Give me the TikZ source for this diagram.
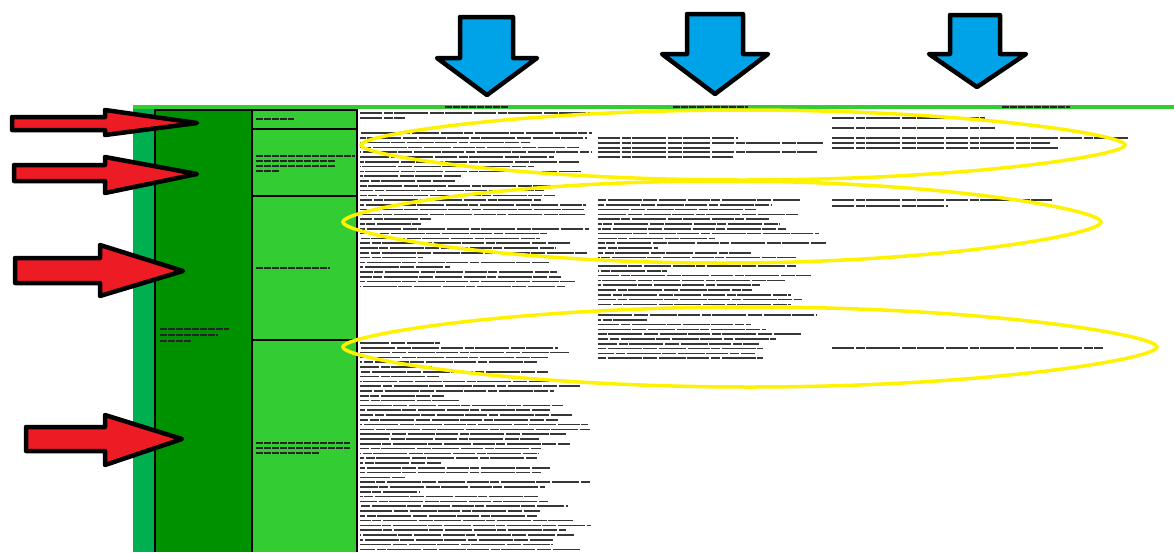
\documentclass[tikz,border=0pt]{standalone}
\definecolor{midgreen}{RGB}{0,176,80}
\definecolor{darkgreen}{RGB}{0,145,0}
\definecolor{lightgreen}{RGB}{51,204,51}
\definecolor{arrowred}{RGB}{237,28,36}
\definecolor{arrowblue}{RGB}{0,162,232}
\definecolor{hiyellow}{RGB}{255,242,0}
\definecolor{inkgray}{RGB}{55,55,55}
\tikzset{
  redarrow/.style={fill=arrowred,draw=black,line width=4.5pt,line join=round},
  bluearrow/.style={fill=arrowblue,draw=black,line width=4.5pt,line join=round},
  txt/.style={draw=inkgray,line width=1.7pt,dash pattern=on 22pt off 1.6pt on 9pt off 1.6pt on 34pt off 1.6pt on 14pt off 1.6pt on 27pt off 1.6pt},
  celltxt/.style={draw=black!85,line width=1.5pt,dash pattern=on 7pt off 1pt},
  ring/.style={draw=hiyellow,line width=3.5pt},
  gridline/.style={draw=black,line width=1.6pt}
}
\newcommand{\txtblock}[5]{%
  \foreach \k in {1,...,#3}{
    \pgfmathsetmacro{\yy}{#2+(\k-1)*4.8}
    \pgfmathsetmacro{\rr}{rnd}
    \pgfmathsetmacro{\ww}{\rr<0.13 ? 40+80*rnd : #4+(#5-#4)*rnd}
    \pgfmathsetmacro{\ph}{40*rnd}
    \draw[txt,dash phase=\ph pt] (#1,\yy) -- ++(\ww,0);
  }}
% pointed hand-drawn ring: centre x, centre y, half width, half height
\newcommand{\lensring}[4]{%
  \pgfmathsetmacro{\lx}{#1-#3}\pgfmathsetmacro{\rx}{#1+#3}%
  \pgfmathsetmacro{\ty}{#2-#4}\pgfmathsetmacro{\by}{#2+#4}%
  \pgfmathsetmacro{\ha}{0.3*#4}\pgfmathsetmacro{\hb}{0.58*#3}%
  \draw[ring] (\lx,#2) .. controls (\lx,#2-\ha) and (#1-\hb,\ty) .. (#1,\ty)
    .. controls (#1+\hb,\ty) and (\rx,#2-\ha) .. (\rx,#2)
    .. controls (\rx,#2+\ha) and (#1+\hb,\by) .. (#1,\by)
    .. controls (#1-\hb,\by) and (\lx,#2+\ha) .. cycle;}
\begin{document}
\begin{tikzpicture}[x=1pt,y=-1pt]
\pgfmathsetseed{321}
\useasboundingbox[fill=white] (0,0) rectangle (1174,552);

% table columns
\fill[midgreen] (133,106) rectangle (155,552);
\fill[darkgreen] (155,108) rectangle (252,552);
\fill[lightgreen] (252,108) rectangle (357,552);
\draw[gridline] (155,109) -- (155,552);
\draw[gridline] (252,109) -- (252,552);
\draw[gridline] (357,109) -- (357,552);
\draw[gridline] (155,110) -- (357,110);
\draw[gridline] (252,129) -- (357,129);
\draw[gridline] (252,196) -- (357,196);
\draw[gridline] (252,340) -- (357,340);
\draw[lightgreen,line width=3.5pt] (133,107) -- (1174,107);

% header labels
\draw[celltxt] (445,107) -- (508,107);
\draw[celltxt] (673,107) -- (748,107);
\draw[celltxt] (1002,107) -- (1070,107);

% left column labels
\draw[celltxt] (160,329) -- (229,329);
\draw[celltxt] (160,335) -- (218,335);
\draw[celltxt] (160,341) -- (192,341);
\draw[celltxt] (256,119) -- (294,119);
\draw[celltxt] (256,156) -- (355,156);
\draw[celltxt] (256,161) -- (335,161);
\draw[celltxt] (256,166) -- (335,166);
\draw[celltxt] (256,171) -- (279,171);
\draw[celltxt] (256,268) -- (330,268);
\draw[celltxt] (256,443) -- (350,443);
\draw[celltxt] (256,448) -- (350,448);
\draw[celltxt] (256,453) -- (320,453);

% column 1 text
\draw[txt] (360,113) -- (590,113);
\draw[txt] (360,118) -- (405,118);
\txtblock{360}{133}{14}{170}{232}
\txtblock{360}{200}{19}{170}{232}
\txtblock{360}{343}{44}{170}{232}

% column 2 text
\draw[txt] (598,138) -- (738,138);
\draw[txt] (598,143) -- (823,143);
\draw[txt] (598,148) -- (710,148);
\draw[txt] (598,152) -- (817,152);
\draw[txt] (598,157) -- (733,157);
\txtblock{598}{200}{13}{150}{230}
\txtblock{598}{266}{9}{150}{230}
\txtblock{598}{315}{10}{150}{230}

% column 3 text
\draw[txt] (832,118) -- (985,118);
\draw[txt] (832,128) -- (995,128);
\draw[txt] (832,138) -- (1128,138);
\draw[txt] (832,143) -- (1050,143);
\draw[txt] (832,148) -- (1060,148);
\draw[txt] (832,200) -- (1052,200);
\draw[txt] (832,206) -- (948,206);
\draw[txt] (832,348) -- (1103,348);

% yellow rings
\lensring{743}{145}{382}{35}
\lensring{722}{222}{379}{41}
\lensring{750}{347}{407}{40}

% blue arrows
\draw[bluearrow] (460,17) -- (513,17) -- (513,58) -- (537,58) -- (487,95) -- (437,58) -- (460,58) -- cycle;
\draw[bluearrow] (687,14) -- (743,14) -- (743,54) -- (768,54) -- (715,94) -- (662,54) -- (687,54) -- cycle;
\draw[bluearrow] (950,15) -- (1000,15) -- (1000,54) -- (1026,54) -- (977,87) -- (929,54) -- (950,54) -- cycle;

% red arrows
\draw[redarrow] (12,117) -- (105,117) -- (105,110) -- (197,123) -- (105,135) -- (105,130) -- (12,130) -- cycle;
\draw[redarrow] (14,165) -- (105,165) -- (105,157) -- (197,174) -- (105,193) -- (105,181) -- (14,181) -- cycle;
\draw[redarrow] (15,258) -- (100,258) -- (100,245) -- (183,271) -- (100,296) -- (100,283) -- (15,283) -- cycle;
\draw[redarrow] (26,427) -- (105,427) -- (105,415) -- (182,439) -- (105,465) -- (105,451) -- (26,451) -- cycle;
\end{tikzpicture}
\end{document}
